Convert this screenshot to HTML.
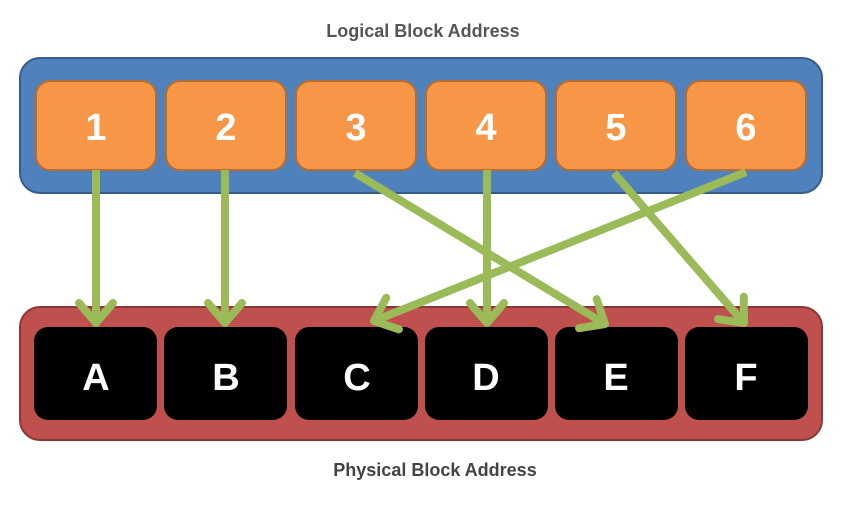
<!DOCTYPE html>
<html><head><style>
html,body{margin:0;padding:0;background:#fff;}
</style></head><body>
<svg width="855" height="508" viewBox="0 0 855 508" xmlns="http://www.w3.org/2000/svg" font-family="Liberation Sans, sans-serif">
<defs>
<marker id="ah" markerUnits="userSpaceOnUse" markerWidth="60" markerHeight="60" refX="22" refY="20" orient="auto" viewBox="-10 -10 60 60" overflow="visible">
<polyline points="2,3 22,20 2,37" fill="none" stroke="#9bbb59" stroke-width="8" stroke-linecap="round" stroke-linejoin="round"/>
</marker>
</defs>
<text x="423" y="37" text-anchor="middle" font-size="18" font-weight="bold" fill="#555">Logical Block Address</text>
<text x="435" y="476" text-anchor="middle" font-size="18" font-weight="bold" fill="#444">Physical Block Address</text>
<rect x="20" y="58" width="802" height="135" rx="20" fill="#4f81bd" stroke="#385d8a" stroke-width="2"/>
<rect x="20" y="307" width="802" height="133" rx="20" fill="#c0504d" stroke="#8c3836" stroke-width="2"/>
<g fill="#f79646" stroke="#b66d31" stroke-width="2">
<rect x="36" y="81" width="120" height="89" rx="14"/>
<rect x="166" y="81" width="120" height="89" rx="14"/>
<rect x="296" y="81" width="120" height="89" rx="14"/>
<rect x="426" y="81" width="120" height="89" rx="14"/>
<rect x="556" y="81" width="120" height="89" rx="14"/>
<rect x="686" y="81" width="120" height="89" rx="14"/>
</g>
<g fill="#000">
<rect x="34" y="327" width="123" height="93" rx="14"/>
<rect x="164" y="327" width="123" height="93" rx="14"/>
<rect x="295" y="327" width="123" height="93" rx="14"/>
<rect x="425" y="327" width="123" height="93" rx="14"/>
<rect x="555" y="327" width="123" height="93" rx="14"/>
<rect x="685" y="327" width="123" height="93" rx="14"/>
</g>
<g fill="#fff" font-size="38" font-weight="bold" text-anchor="middle">
<text x="96" y="140">1</text><text x="226" y="140">2</text><text x="356" y="140">3</text>
<text x="486" y="140">4</text><text x="616" y="140">5</text><text x="746" y="140">6</text>
<text x="96" y="390">A</text><text x="226" y="390">B</text><text x="357" y="390">C</text>
<text x="486" y="390">D</text><text x="616" y="390">E</text><text x="746" y="390">F</text>
</g>
<g stroke="#9bbb59" stroke-width="8" fill="none" marker-end="url(#ah)">
<line x1="96" y1="170" x2="96" y2="323"/>
<line x1="225" y1="170" x2="225" y2="323"/>
<line x1="355" y1="173" x2="605" y2="324"/>
<line x1="487" y1="170" x2="487" y2="323"/>
<line x1="614" y1="173" x2="744" y2="323"/>
<line x1="746" y1="172" x2="374" y2="321"/>
</g>
</svg>
</body></html>
